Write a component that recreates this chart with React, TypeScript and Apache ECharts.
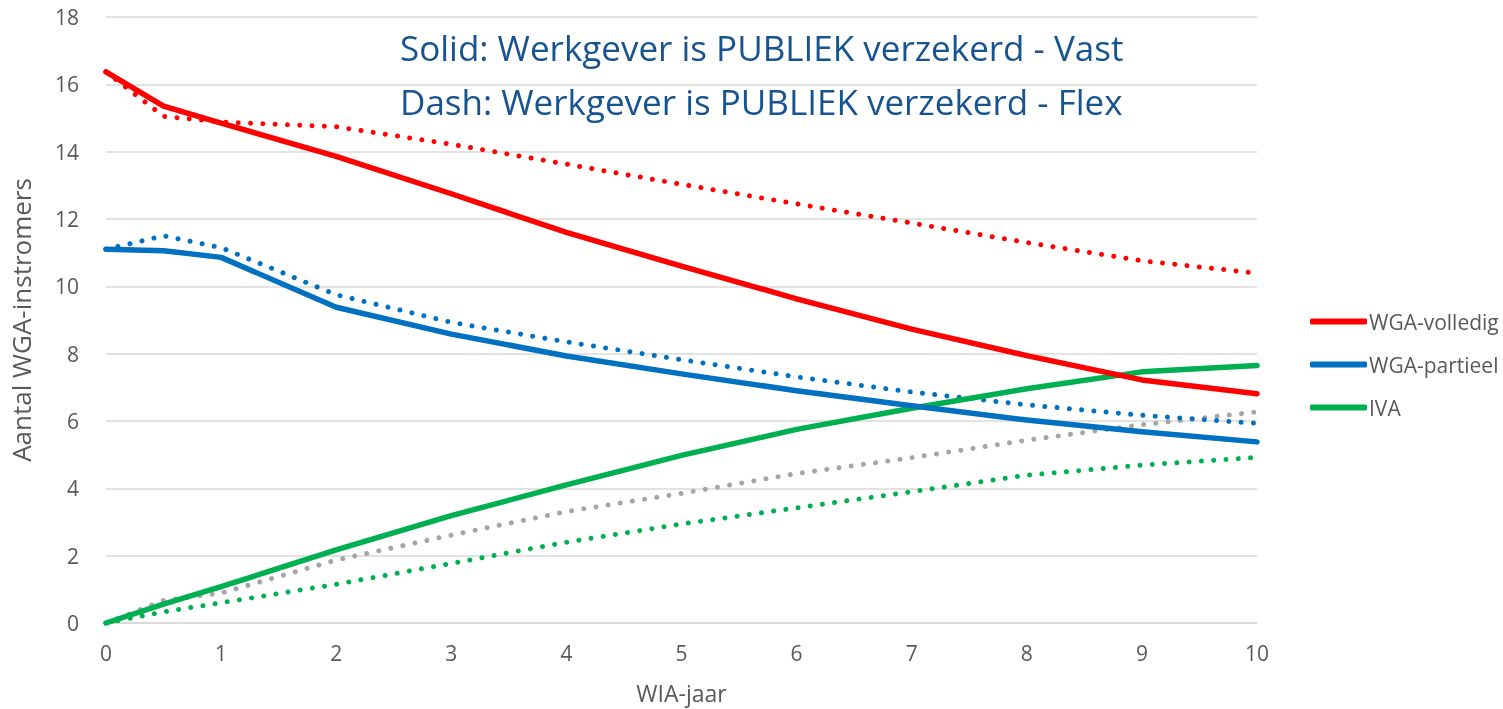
import React, { useEffect, useRef } from "react";
import * as echarts from "echarts";

const xYears = [0, 0.5, 1, 2, 3, 4, 5, 6, 7, 8, 9, 10];

const wgaVolledigVast = [16.37, 15.35, 14.85, 13.86, 12.75, 11.6, 10.6, 9.63, 8.73, 7.94, 7.22, 6.81];
const wgaVolledigFlex = [16.37, 15.05, 14.88, 14.74, 14.22, 13.63, 13.03, 12.45, 11.88, 11.3, 10.76, 10.39];
const wgaPartieelVast = [11.1, 11.06, 10.86, 9.38, 8.58, 7.93, 7.4, 6.9, 6.45, 6.03, 5.68, 5.38];
const wgaPartieelFlex = [11.1, 11.5, 11.15, 9.75, 8.93, 8.35, 7.82, 7.31, 6.86, 6.48, 6.17, 5.93];
const ivaVast = [0, 0.56, 1.08, 2.17, 3.19, 4.1, 4.98, 5.75, 6.38, 6.96, 7.46, 7.65];
const ivaFlex = [0, 0.33, 0.6, 1.15, 1.77, 2.4, 2.94, 3.42, 3.9, 4.39, 4.69, 4.92];
const overigFlex = [0, 0.67, 0.89, 1.87, 2.61, 3.31, 3.85, 4.44, 4.91, 5.43, 5.89, 6.27];

const legendNames = ["WGA-volledig", "WGA-partieel", "IVA"];
const titleLines = [
  "Solid: Werkgever is PUBLIEK verzekerd - Vast",
  "Dash: Werkgever is PUBLIEK verzekerd - Flex",
];

const pair = (vals: number[]) => xYears.map((x, i) => [x, vals[i]]);

export default function App() {
  const ref = useRef<HTMLDivElement>(null);
  useEffect(() => {
    if (!ref.current) return;
    const chart = echarts.init(ref.current, undefined, { renderer: "svg" });
    const font = "'Open Sans', sans-serif";
    const solid = (name: string, data: number[], color: string) => ({
      name,
      type: "line",
      data: pair(data),
      symbol: "none",
      lineStyle: { color, width: 5.5, cap: "round", join: "round" },
      itemStyle: { color },
      z: 3,
    });
    const dotted = (name: string, data: number[], color: string) => ({
      name,
      type: "line",
      data: pair(data),
      symbol: "none",
      lineStyle: { color, width: 5, type: [0.01, 12.3], cap: "round", join: "round" },
      itemStyle: { color },
      z: 2,
    });
    chart.setOption({
      animation: false,
      textStyle: { fontFamily: font },
      grid: { left: 100, right: 246, top: 17, bottom: 84, containLabel: false },
      legend: {
        data: legendNames,
        orient: "vertical",
        left: 1305,
        top: 306,
        icon: "roundRect",
        itemWidth: 57,
        itemHeight: 6,
        itemGap: 22,
        textStyle: { color: "#595959", fontSize: 21, fontFamily: font, padding: [0, 0, 0, -3] },
      },
      graphic: titleLines.map((t, i) => ({
        type: "text",
        left: 400,
        top: 30 + i * 54,
        style: { text: t, fill: "#17548F", fontSize: 35, fontFamily: font },
      })),
      xAxis: {
        type: "value",
        min: 0,
        max: 10,
        interval: 1,
        name: "WIA-jaar",
        nameLocation: "middle",
        nameGap: 58,
        nameTextStyle: { color: "#595959", fontSize: 23, fontFamily: font },
        axisLine: { show: true, lineStyle: { color: "#D9D9D9", width: 1.5 } },
        axisTick: { show: false },
        splitLine: { show: false },
        axisLabel: { color: "#595959", fontSize: 21, margin: 19, fontFamily: font },
      },
      yAxis: {
        type: "value",
        min: 0,
        max: 18,
        interval: 2,
        name: "Aantal WGA-instromers",
        nameLocation: "middle",
        nameGap: 72,
        nameTextStyle: { color: "#595959", fontSize: 26, fontFamily: font },
        axisLine: { show: false },
        axisTick: { show: false },
        splitLine: { lineStyle: { color: "#D9D9D9", width: 1.5 } },
        axisLabel: { color: "#595959", fontSize: 21, margin: 27, fontFamily: font },
      },
      series: [
        dotted("Overig (Flex)", overigFlex, "#A5A5A5"),
        dotted("IVA (Flex)", ivaFlex, "#00B050"),
        dotted("WGA-partieel (Flex)", wgaPartieelFlex, "#0070C0"),
        dotted("WGA-volledig (Flex)", wgaVolledigFlex, "#FF0000"),
        solid("IVA", ivaVast, "#00B050"),
        solid("WGA-partieel", wgaPartieelVast, "#0070C0"),
        solid("WGA-volledig", wgaVolledigVast, "#FF0000"),
      ],
    });
    return () => chart.dispose();
  }, []);
  return (
    <div
      ref={ref}
      style={{ position: "fixed", left: 0, top: 0, width: 1503, height: 709 }}
    />
  );
}
